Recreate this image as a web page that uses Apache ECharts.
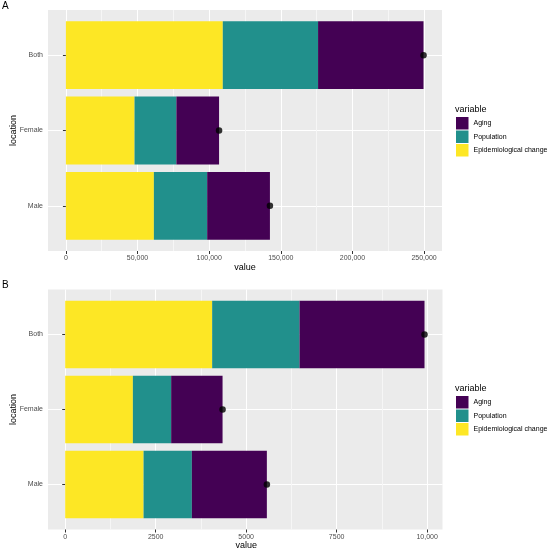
<!DOCTYPE html>
<html>
<head>
<meta charset="utf-8">
<script src="https://cdn.jsdelivr.net/npm/echarts@6/dist/echarts.min.js"></script>
<style>
  html, body { margin: 0; padding: 0; background: #fff; }
  #chart { width: 550px; height: 553px; }
</style>
</head>
<body>
<div id="chart"></div>
<script>
// categories (first = bottom of the axis)
const locations = ['Male', 'Female', 'Both'];
const variables = ['Aging', 'Population', 'Epidemiological change'];

// panel A
const epiA = [61400, 47900, 109500];
const popA = [37200, 29200, 66500];
const agingA = [43800, 29800, 73600];
const ticksA = [0, 50000, 100000, 150000, 200000, 250000];
const tickLabelsA = ['0', '50,000', '100,000', '150,000', '200,000', '250,000'];

// panel B
const epiB = [2166, 1870, 4061];
const popB = [1334, 1058, 2414];
const agingB = [2072, 1420, 3453];
const ticksB = [0, 2500, 5000, 7500, 10000];
const tickLabelsB = ['0', '2500', '5000', '7500', '10,000'];

const palette = { 'Aging': '#440154', 'Population': '#21908C', 'Epidemiological change': '#FDE725' };
const NONE = 'rgba(0,0,0,0)', MAJOR = '#FFFFFF', MINOR = '#F6F6F6';

const chart = echarts.init(document.getElementById('chart'), null, { renderer: 'canvas' });

const grid = [], xAxis = [], yAxis = [], series = [], legend = [];

// split line colours cycle per tick: white on major breaks, pale on minor ones
function lineColors(min, step, major) {
  const n = major / step, out = [];
  for (let i = 0; i < n; i++) {
    const v = min + step * i;
    const m = ((v % major) + major) % major;
    out.push(m === 0 ? MAJOR : (m === major / 2 ? MINOR : NONE));
  }
  return out;
}

function addPanel(p) {
  const g0 = grid.length;
  const g1 = g0 + 1;
  const inset = p.height * 0.1 / 3.2;              // ggplot discrete expansion 0.6 vs band edge 0.5
  const span = p.bgMax - p.bgMin;
  const x0 = p.left + (0 - p.bgMin) / span * p.width; // pixel of value 0
  const w1 = p.ticks[p.ticks.length - 1] / span * p.width;

  // background panel with grid lines
  grid.push({ left: p.left, top: p.top, width: p.width, height: p.height, outerBoundsMode: 'none',
    show: true, backgroundColor: '#EBEBEB', borderWidth: 0 });
  // data area (inset vertically, starts at zero)
  grid.push({ left: x0, top: p.top + inset, width: w1, height: p.height - 2 * inset,
    outerBoundsMode: 'none' });

  xAxis.push({ gridIndex: g0, type: 'value', min: p.bgMin, max: p.bgMax, interval: p.bgStep,
    axisLine: { show: false }, axisTick: { show: false }, axisLabel: { show: false },
    splitLine: { show: true, lineStyle: { color: lineColors(p.bgMin, p.bgStep, p.ticks[1]), width: 1 } } });
  yAxis.push({ gridIndex: g0, type: 'value', min: 0.4, max: 3.6, interval: 0.2,
    axisLine: { show: false }, axisTick: { show: false }, axisLabel: { show: false },
    splitLine: { show: true, lineStyle: { color: [NONE, NONE, NONE, MAJOR, NONE], width: 1 } } });

  xAxis.push({ gridIndex: g1, type: 'value', min: 0, max: p.ticks[p.ticks.length - 1],
    interval: p.ticks[1], offset: inset,
    axisLine: { show: false },
    axisTick: { show: true, length: 3, lineStyle: { color: '#333333', width: 1 } },
    axisLabel: { fontSize: 7, color: '#4D4D4D', margin: 4, fontFamily: 'Liberation Sans',
      formatter: v => p.tickLabels[p.ticks.indexOf(v)] ?? '' },
    splitLine: { show: false },
    name: 'value', nameLocation: 'middle', nameGap: 12, nameMoveOverlap: false,
    nameTextStyle: { fontSize: 9, color: '#000', fontFamily: 'Liberation Sans' } });
  yAxis.push({ gridIndex: g1, type: 'category', data: locations, offset: x0 - p.left,
    axisLine: { show: false },
    axisTick: { show: true, alignWithLabel: true, length: 3, lineStyle: { color: '#333333', width: 1 } },
    axisLabel: { fontSize: 7, color: '#4D4D4D', margin: 5, fontFamily: 'Liberation Sans' },
    splitLine: { show: false },
    name: 'location', nameLocation: 'middle', nameGap: 30, nameMoveOverlap: false,
    nameTextStyle: { fontSize: 9, color: '#000', fontFamily: 'Liberation Sans' } });

  const xi = xAxis.length - 1, yi = yAxis.length - 1;
  [['Epidemiological change', p.epi], ['Population', p.pop], ['Aging', p.aging]].forEach(([name, vals]) => {
    series.push({ name, type: 'bar', stack: p.id, xAxisIndex: xi, yAxisIndex: yi,
      barWidth: '90%', itemStyle: { color: palette[name] }, data: vals, z: 2 });
  });
  const totals = locations.map((loc, i) => [p.epi[i] + p.pop[i] + p.aging[i], loc]);
  series.push({ name: 'total', type: 'scatter', xAxisIndex: xi, yAxisIndex: yi,
    symbolSize: 6.5, clip: false, itemStyle: { color: '#000' }, data: totals, z: 5 });

  legend.push({ data: variables, orient: 'vertical', left: 456, top: p.legendTop, padding: 0,
    icon: 'rect', itemWidth: 12.5, itemHeight: 12.5, itemGap: 1, selectedMode: false,
    textStyle: { fontSize: 7, color: '#000', fontFamily: 'Liberation Sans' } });
}

addPanel({ id: 'A', left: 48, top: 10, width: 394, height: 241,
  bgMin: -12500, bgMax: 262500, bgStep: 12500,
  ticks: ticksA, tickLabels: tickLabelsA, epi: epiA, pop: popA, aging: agingA, legendTop: 117 });
addPanel({ id: 'B', left: 48, top: 289.5, width: 394.5, height: 240,
  bgMin: -475, bgMax: 10425, bgStep: 25,
  ticks: ticksB, tickLabels: tickLabelsB, epi: epiB, pop: popB, aging: agingB, legendTop: 396 });

const titleStyle = { fontSize: 10, fontWeight: 'normal', color: '#000', fontFamily: 'Liberation Sans' };
const legendTitle = { fontSize: 9, fontWeight: 'normal', color: '#000', fontFamily: 'Liberation Sans' };
const option = {
  animation: false,
  title: [
    { text: 'A', left: 2, top: 1, textStyle: titleStyle, padding: 0 },
    { text: 'B', left: 2, top: 280, textStyle: titleStyle, padding: 0 },
    { text: 'variable', left: 455, top: 105, padding: 0, textStyle: legendTitle },
    { text: 'variable', left: 455, top: 384, padding: 0, textStyle: legendTitle }
  ],
  legend,
  grid,
  xAxis,
  yAxis,
  series
};
chart.setOption(option);
</script>
</body>
</html>
